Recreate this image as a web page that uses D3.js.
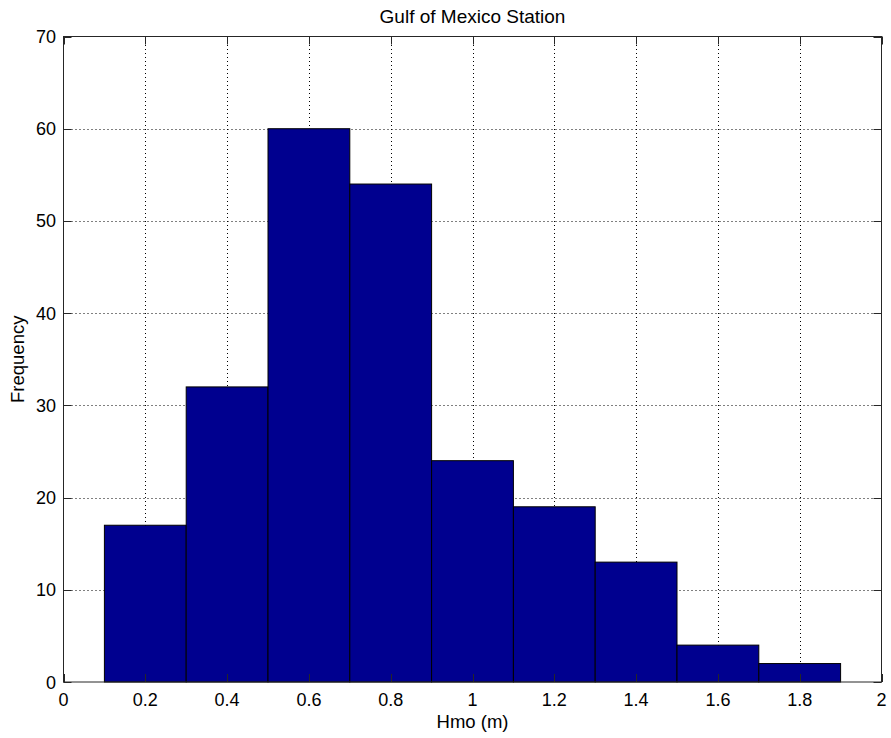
<!DOCTYPE html>
<html><head><meta charset="utf-8">
<script src="https://cdn.jsdelivr.net/npm/d3@7"></script>
<style>body{margin:0;background:#fff}svg{display:block}text{font-family:"Liberation Sans",Arial,Helvetica,sans-serif}</style>
</head><body>
<script>
const binEdges = [0.1,0.3,0.5,0.7,0.9,1.1,1.3,1.5,1.7,1.9];
const counts = [17,32,60,54,24,19,13,4,2];
const xTicks = [0,0.2,0.4,0.6,0.8,1,1.2,1.4,1.6,1.8,2];
const yTicks = [0,10,20,30,40,50,60,70];
const title = "Gulf of Mexico Station";
const xLabel = "Hmo (m)";
const yLabel = "Frequency";

const W=891,H=738;
const m={l:63.5,r:9.5,t:36.5,b:56};
const svg=d3.select("body").append("svg").attr("width",W).attr("height",H);
const x=d3.scaleLinear().domain([0,2]).range([m.l,W-m.r]);
const y=d3.scaleLinear().domain([0,70]).range([H-m.b,m.t]);
const fmt=d=>String(+d.toFixed(1));

// grid
const g=svg.append("g");
g.selectAll(".gx").data(xTicks.slice(1,-1)).join("line")
 .attr("x1",d=>Math.round(x(d))+0.5).attr("x2",d=>Math.round(x(d))+0.5)
 .attr("y1",y(0)).attr("y2",y(70))
 .attr("stroke","#000").attr("stroke-width",1).attr("stroke-dasharray","1,3");
g.selectAll(".gy").data(yTicks.slice(1,-1)).join("line")
 .attr("y1",d=>Math.round(y(d))+0.5).attr("y2",d=>Math.round(y(d))+0.5)
 .attr("x1",x(0)).attr("x2",x(2))
 .attr("stroke","#000").attr("stroke-width",1).attr("stroke-dasharray","1,3");

// bars
svg.append("g").selectAll("rect").data(counts).join("rect")
 .attr("x",(d,i)=>x(binEdges[i])).attr("width",(d,i)=>x(binEdges[i+1])-x(binEdges[i]))
 .attr("y",d=>y(d)).attr("height",d=>y(0)-y(d))
 .attr("fill","#00008F").attr("stroke","#000").attr("stroke-width",1);

// frame
svg.append("rect").attr("x",x(0)).attr("y",y(70)).attr("width",x(2)-x(0)).attr("height",y(0)-y(70))
 .attr("fill","none").attr("stroke","#262626").attr("stroke-width",1);

const tl=8;
const tk=svg.append("g").attr("stroke","#262626").attr("stroke-width",1);
xTicks.forEach(d=>{
  const px=Math.round(x(d))+0.5;
  tk.append("line").attr("x1",px).attr("x2",px).attr("y1",y(0)).attr("y2",y(0)-tl);
  tk.append("line").attr("x1",px).attr("x2",px).attr("y1",y(70)).attr("y2",y(70)+tl);
});
yTicks.forEach(d=>{
  const py=Math.round(y(d))+0.5;
  tk.append("line").attr("y1",py).attr("y2",py).attr("x1",x(0)).attr("x2",x(0)+tl);
  tk.append("line").attr("y1",py).attr("y2",py).attr("x1",x(2)).attr("x2",x(2)-tl);
});

// labels
svg.append("g").selectAll("text").data(xTicks).join("text")
 .attr("x",d=>x(d)).attr("y",706).attr("text-anchor","middle")
 .attr("font-size",18).attr("fill","#000").text(fmt);
svg.append("g").selectAll("text").data(yTicks).join("text")
 .attr("x",56).attr("y",d=>y(d)+6.5).attr("text-anchor","end")
 .attr("font-size",18).attr("fill","#000").text(d=>d);

svg.append("text").attr("x",(x(0)+x(2))/2).attr("y",23).attr("text-anchor","middle")
 .attr("font-size",19).attr("fill","#000").text(title);
svg.append("text").attr("x",(x(0)+x(2))/2).attr("y",728).attr("text-anchor","middle")
 .attr("font-size",18.5).attr("fill","#000").text(xLabel);
svg.append("text").attr("transform",`translate(24,${(y(0)+y(70))/2}) rotate(-90)`).attr("text-anchor","middle")
 .attr("font-size",18.5).attr("fill","#000").text(yLabel);
</script>
</body></html>
